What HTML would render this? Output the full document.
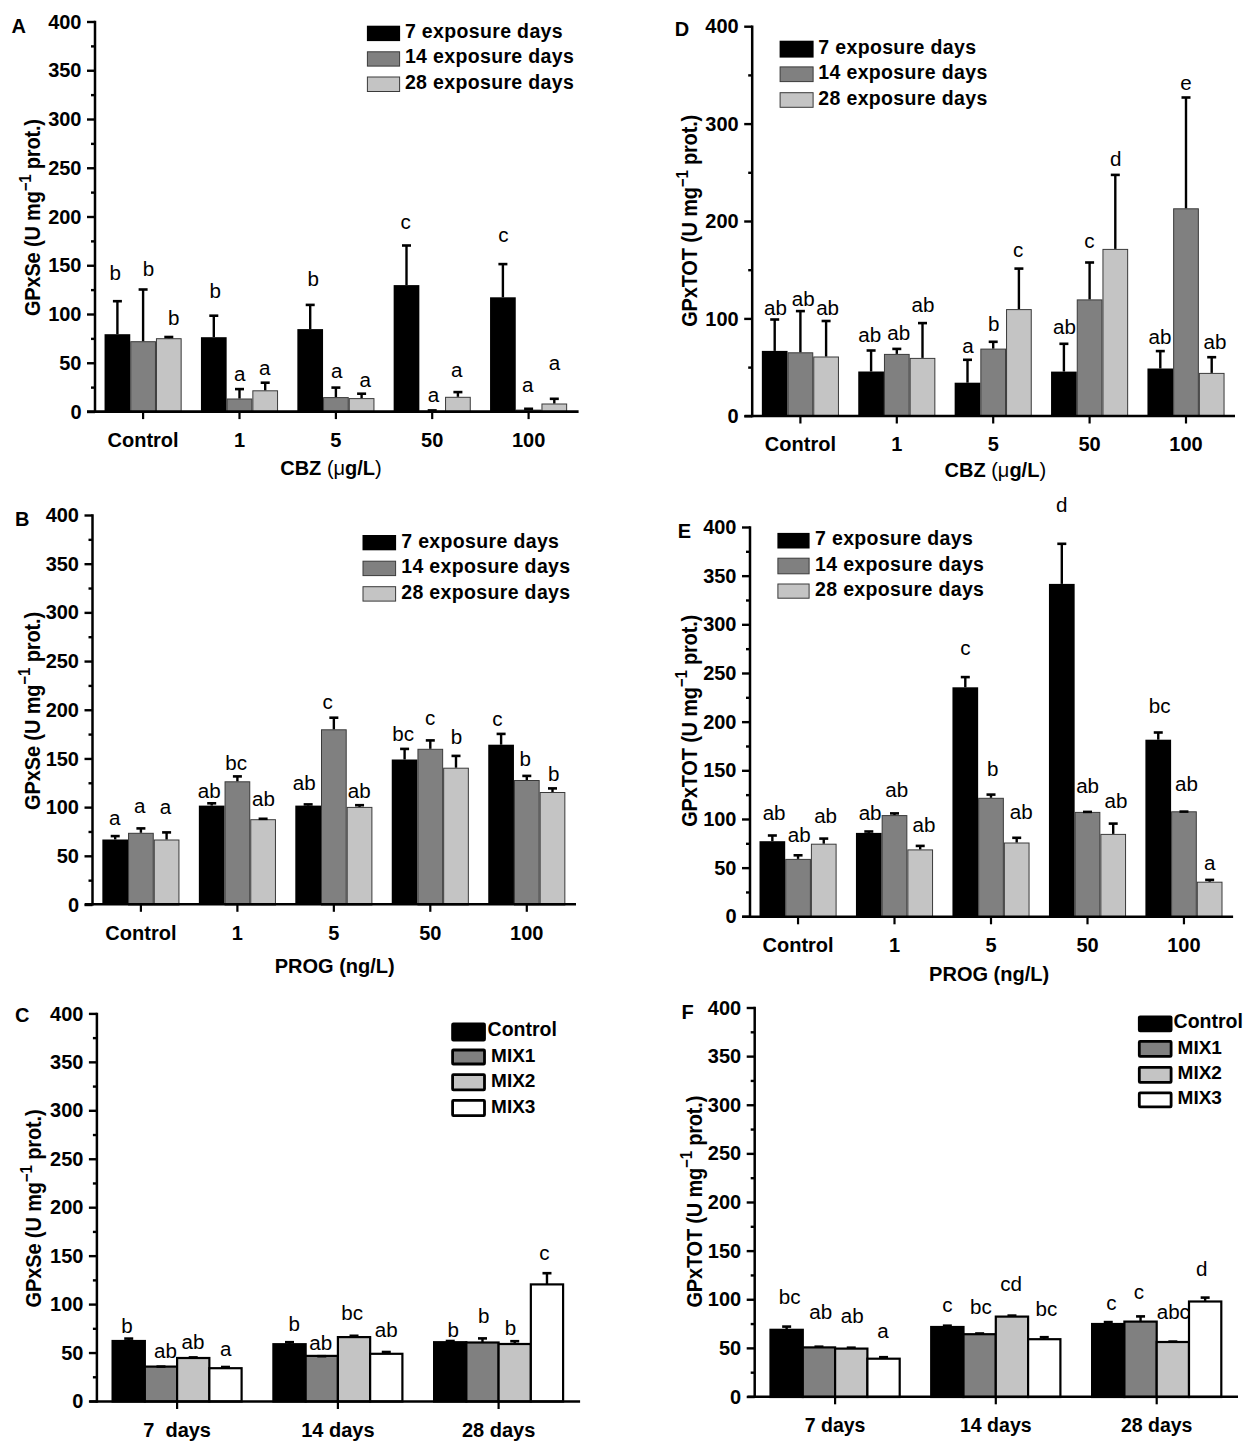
<!DOCTYPE html>
<html><head><meta charset="utf-8"><title>GPx figure</title>
<style>
html,body{margin:0;padding:0;background:#fff;}
body{width:1250px;height:1446px;overflow:hidden;}
svg{display:block;}
text{font-family:"Liberation Sans", sans-serif;fill:#000;}
</style></head>
<body>
<svg width="1250" height="1446" viewBox="0 0 1250 1446">
<rect x="0" y="0" width="1250" height="1446" fill="#fff"/>
<line x1="87.00" y1="412.00" x2="95.00" y2="412.00" stroke="#000" stroke-width="2.4"/>
<text x="81.50" y="418.60" font-size="20" font-weight="bold" text-anchor="end" >0</text>
<line x1="91.00" y1="387.62" x2="95.00" y2="387.62" stroke="#000" stroke-width="2.4"/>
<line x1="87.00" y1="363.25" x2="95.00" y2="363.25" stroke="#000" stroke-width="2.4"/>
<text x="81.50" y="369.85" font-size="20" font-weight="bold" text-anchor="end" >50</text>
<line x1="91.00" y1="338.88" x2="95.00" y2="338.88" stroke="#000" stroke-width="2.4"/>
<line x1="87.00" y1="314.50" x2="95.00" y2="314.50" stroke="#000" stroke-width="2.4"/>
<text x="81.50" y="321.10" font-size="20" font-weight="bold" text-anchor="end" >100</text>
<line x1="91.00" y1="290.12" x2="95.00" y2="290.12" stroke="#000" stroke-width="2.4"/>
<line x1="87.00" y1="265.75" x2="95.00" y2="265.75" stroke="#000" stroke-width="2.4"/>
<text x="81.50" y="272.35" font-size="20" font-weight="bold" text-anchor="end" >150</text>
<line x1="91.00" y1="241.38" x2="95.00" y2="241.38" stroke="#000" stroke-width="2.4"/>
<line x1="87.00" y1="217.00" x2="95.00" y2="217.00" stroke="#000" stroke-width="2.4"/>
<text x="81.50" y="223.60" font-size="20" font-weight="bold" text-anchor="end" >200</text>
<line x1="91.00" y1="192.62" x2="95.00" y2="192.62" stroke="#000" stroke-width="2.4"/>
<line x1="87.00" y1="168.25" x2="95.00" y2="168.25" stroke="#000" stroke-width="2.4"/>
<text x="81.50" y="174.85" font-size="20" font-weight="bold" text-anchor="end" >250</text>
<line x1="91.00" y1="143.88" x2="95.00" y2="143.88" stroke="#000" stroke-width="2.4"/>
<line x1="87.00" y1="119.50" x2="95.00" y2="119.50" stroke="#000" stroke-width="2.4"/>
<text x="81.50" y="126.10" font-size="20" font-weight="bold" text-anchor="end" >300</text>
<line x1="91.00" y1="95.12" x2="95.00" y2="95.12" stroke="#000" stroke-width="2.4"/>
<line x1="87.00" y1="70.75" x2="95.00" y2="70.75" stroke="#000" stroke-width="2.4"/>
<text x="81.50" y="77.35" font-size="20" font-weight="bold" text-anchor="end" >350</text>
<line x1="91.00" y1="46.38" x2="95.00" y2="46.38" stroke="#000" stroke-width="2.4"/>
<line x1="87.00" y1="22.00" x2="95.00" y2="22.00" stroke="#000" stroke-width="2.4"/>
<text x="81.50" y="28.60" font-size="20" font-weight="bold" text-anchor="end" >400</text>
<rect x="104.55" y="334.20" width="25.70" height="77.80" fill="#000"/>
<rect x="130.75" y="341.70" width="24.70" height="70.30" fill="#808080" stroke="#3a3a3a" stroke-width="1"/>
<rect x="156.45" y="338.70" width="24.70" height="73.30" fill="#c4c4c4" stroke="#3a3a3a" stroke-width="1"/>
<line x1="117.40" y1="334.20" x2="117.40" y2="301.20" stroke="#000" stroke-width="2.4"/>
<line x1="112.90" y1="301.20" x2="121.90" y2="301.20" stroke="#000" stroke-width="2.6"/>
<line x1="143.10" y1="341.20" x2="143.10" y2="289.50" stroke="#000" stroke-width="2.4"/>
<line x1="138.60" y1="289.50" x2="147.60" y2="289.50" stroke="#000" stroke-width="2.6"/>
<line x1="168.80" y1="338.20" x2="168.80" y2="337.00" stroke="#000" stroke-width="2.4"/>
<line x1="164.30" y1="337.00" x2="173.30" y2="337.00" stroke="#000" stroke-width="2.6"/>
<rect x="200.95" y="337.20" width="25.70" height="74.80" fill="#000"/>
<rect x="227.15" y="399.00" width="24.70" height="13.00" fill="#808080" stroke="#3a3a3a" stroke-width="1"/>
<rect x="252.85" y="390.80" width="24.70" height="21.20" fill="#c4c4c4" stroke="#3a3a3a" stroke-width="1"/>
<line x1="213.80" y1="337.20" x2="213.80" y2="315.70" stroke="#000" stroke-width="2.4"/>
<line x1="209.30" y1="315.70" x2="218.30" y2="315.70" stroke="#000" stroke-width="2.6"/>
<line x1="239.50" y1="398.50" x2="239.50" y2="389.10" stroke="#000" stroke-width="2.4"/>
<line x1="235.00" y1="389.10" x2="244.00" y2="389.10" stroke="#000" stroke-width="2.6"/>
<line x1="265.20" y1="390.30" x2="265.20" y2="382.70" stroke="#000" stroke-width="2.4"/>
<line x1="260.70" y1="382.70" x2="269.70" y2="382.70" stroke="#000" stroke-width="2.6"/>
<rect x="297.35" y="329.10" width="25.70" height="82.90" fill="#000"/>
<rect x="323.55" y="397.60" width="24.70" height="14.40" fill="#808080" stroke="#3a3a3a" stroke-width="1"/>
<rect x="349.25" y="398.60" width="24.70" height="13.40" fill="#c4c4c4" stroke="#3a3a3a" stroke-width="1"/>
<line x1="310.20" y1="329.10" x2="310.20" y2="304.90" stroke="#000" stroke-width="2.4"/>
<line x1="305.70" y1="304.90" x2="314.70" y2="304.90" stroke="#000" stroke-width="2.6"/>
<line x1="335.90" y1="397.10" x2="335.90" y2="387.60" stroke="#000" stroke-width="2.4"/>
<line x1="331.40" y1="387.60" x2="340.40" y2="387.60" stroke="#000" stroke-width="2.6"/>
<line x1="361.60" y1="398.10" x2="361.60" y2="393.70" stroke="#000" stroke-width="2.4"/>
<line x1="357.10" y1="393.70" x2="366.10" y2="393.70" stroke="#000" stroke-width="2.6"/>
<rect x="393.65" y="285.10" width="25.70" height="126.90" fill="#000"/>
<rect x="419.85" y="411.30" width="24.70" height="0.70" fill="#808080" stroke="#3a3a3a" stroke-width="1"/>
<rect x="445.55" y="397.30" width="24.70" height="14.70" fill="#c4c4c4" stroke="#3a3a3a" stroke-width="1"/>
<line x1="406.50" y1="285.10" x2="406.50" y2="245.50" stroke="#000" stroke-width="2.4"/>
<line x1="402.00" y1="245.50" x2="411.00" y2="245.50" stroke="#000" stroke-width="2.6"/>
<line x1="432.20" y1="410.80" x2="432.20" y2="410.40" stroke="#000" stroke-width="2.4"/>
<line x1="427.70" y1="410.40" x2="436.70" y2="410.40" stroke="#000" stroke-width="2.6"/>
<line x1="457.90" y1="396.80" x2="457.90" y2="392.10" stroke="#000" stroke-width="2.4"/>
<line x1="453.40" y1="392.10" x2="462.40" y2="392.10" stroke="#000" stroke-width="2.6"/>
<rect x="490.05" y="297.30" width="25.70" height="114.70" fill="#000"/>
<rect x="516.25" y="410.10" width="24.70" height="1.90" fill="#808080" stroke="#3a3a3a" stroke-width="1"/>
<rect x="541.95" y="404.00" width="24.70" height="8.00" fill="#c4c4c4" stroke="#3a3a3a" stroke-width="1"/>
<line x1="502.90" y1="297.30" x2="502.90" y2="264.10" stroke="#000" stroke-width="2.4"/>
<line x1="498.40" y1="264.10" x2="507.40" y2="264.10" stroke="#000" stroke-width="2.6"/>
<line x1="528.60" y1="409.60" x2="528.60" y2="408.80" stroke="#000" stroke-width="2.4"/>
<line x1="524.10" y1="408.80" x2="533.10" y2="408.80" stroke="#000" stroke-width="2.6"/>
<line x1="554.30" y1="403.50" x2="554.30" y2="398.80" stroke="#000" stroke-width="2.4"/>
<line x1="549.80" y1="398.80" x2="558.80" y2="398.80" stroke="#000" stroke-width="2.6"/>
<line x1="95.00" y1="20.80" x2="95.00" y2="412.80" stroke="#000" stroke-width="2.5"/>
<line x1="87.00" y1="411.60" x2="578.60" y2="411.60" stroke="#000" stroke-width="2.6"/>
<line x1="143.10" y1="411.60" x2="143.10" y2="419.10" stroke="#000" stroke-width="2.2"/>
<line x1="239.50" y1="411.60" x2="239.50" y2="419.10" stroke="#000" stroke-width="2.2"/>
<line x1="335.90" y1="411.60" x2="335.90" y2="419.10" stroke="#000" stroke-width="2.2"/>
<line x1="432.20" y1="411.60" x2="432.20" y2="419.10" stroke="#000" stroke-width="2.2"/>
<line x1="528.60" y1="411.60" x2="528.60" y2="419.10" stroke="#000" stroke-width="2.2"/>
<text transform="translate(115.10,279.50) scale(1.03,1)" x="0" y="0" font-size="20" font-weight="normal" text-anchor="middle" >b</text>
<text transform="translate(148.50,275.50) scale(1.03,1)" x="0" y="0" font-size="20" font-weight="normal" text-anchor="middle" >b</text>
<text transform="translate(173.80,324.50) scale(1.03,1)" x="0" y="0" font-size="20" font-weight="normal" text-anchor="middle" >b</text>
<text transform="translate(215.20,298.00) scale(1.03,1)" x="0" y="0" font-size="20" font-weight="normal" text-anchor="middle" >b</text>
<text transform="translate(239.80,381.20) scale(1.03,1)" x="0" y="0" font-size="20" font-weight="normal" text-anchor="middle" >a</text>
<text transform="translate(264.60,374.50) scale(1.03,1)" x="0" y="0" font-size="20" font-weight="normal" text-anchor="middle" >a</text>
<text transform="translate(313.20,285.60) scale(1.03,1)" x="0" y="0" font-size="20" font-weight="normal" text-anchor="middle" >b</text>
<text transform="translate(336.70,378.40) scale(1.03,1)" x="0" y="0" font-size="20" font-weight="normal" text-anchor="middle" >a</text>
<text transform="translate(365.20,387.20) scale(1.03,1)" x="0" y="0" font-size="20" font-weight="normal" text-anchor="middle" >a</text>
<text transform="translate(405.60,228.80) scale(1.03,1)" x="0" y="0" font-size="20" font-weight="normal" text-anchor="middle" >c</text>
<text transform="translate(433.40,402.40) scale(1.03,1)" x="0" y="0" font-size="20" font-weight="normal" text-anchor="middle" >a</text>
<text transform="translate(456.60,376.80) scale(1.03,1)" x="0" y="0" font-size="20" font-weight="normal" text-anchor="middle" >a</text>
<text transform="translate(503.40,242.40) scale(1.03,1)" x="0" y="0" font-size="20" font-weight="normal" text-anchor="middle" >c</text>
<text transform="translate(527.60,392.00) scale(1.03,1)" x="0" y="0" font-size="20" font-weight="normal" text-anchor="middle" >a</text>
<text transform="translate(554.40,370.40) scale(1.03,1)" x="0" y="0" font-size="20" font-weight="normal" text-anchor="middle" >a</text>
<text x="143.10" y="446.80" font-size="20" font-weight="bold" text-anchor="middle" xml:space="preserve">Control</text>
<text x="239.50" y="446.80" font-size="20" font-weight="bold" text-anchor="middle" xml:space="preserve">1</text>
<text x="335.90" y="446.80" font-size="20" font-weight="bold" text-anchor="middle" xml:space="preserve">5</text>
<text x="432.20" y="446.80" font-size="20" font-weight="bold" text-anchor="middle" xml:space="preserve">50</text>
<text x="528.60" y="446.80" font-size="20" font-weight="bold" text-anchor="middle" xml:space="preserve">100</text>
<text x="331.00" y="475.40" font-size="20" font-weight="bold" text-anchor="middle" >CBZ <tspan font-weight="normal">(&#956;</tspan>g/L<tspan font-weight="normal">)</tspan></text>
<text transform="translate(40.10,217.50) rotate(-90) scale(1,1.08)" x="0" y="0" font-size="20" font-weight="bold" text-anchor="middle" textLength="197" lengthAdjust="spacing">GPxSe (U mg<tspan dy="-8.7" font-size="15">&#8722;1</tspan><tspan dy="8.7"> prot.)</tspan></text>
<text x="11.40" y="33.00" font-size="20" font-weight="bold" text-anchor="start" >A</text>
<rect x="366.90" y="25.70" width="33.20" height="15.40" fill="#000"/>
<text x="404.90" y="38.00" font-size="19.5" font-weight="bold" text-anchor="start" letter-spacing="0.35">7 exposure days</text>
<rect x="367.40" y="51.80" width="32.20" height="14.30" fill="#808080" stroke="#3a3a3a" stroke-width="1"/>
<text x="404.90" y="63.00" font-size="19.5" font-weight="bold" text-anchor="start" letter-spacing="0.35">14 exposure days</text>
<rect x="367.40" y="77.00" width="32.20" height="14.50" fill="#c4c4c4" stroke="#3a3a3a" stroke-width="1"/>
<text x="404.90" y="88.50" font-size="19.5" font-weight="bold" text-anchor="start" letter-spacing="0.35">28 exposure days</text>
<line x1="84.50" y1="905.00" x2="92.50" y2="905.00" stroke="#000" stroke-width="2.4"/>
<text x="79.00" y="911.60" font-size="20" font-weight="bold" text-anchor="end" >0</text>
<line x1="88.50" y1="880.66" x2="92.50" y2="880.66" stroke="#000" stroke-width="2.4"/>
<line x1="84.50" y1="856.31" x2="92.50" y2="856.31" stroke="#000" stroke-width="2.4"/>
<text x="79.00" y="862.91" font-size="20" font-weight="bold" text-anchor="end" >50</text>
<line x1="88.50" y1="831.97" x2="92.50" y2="831.97" stroke="#000" stroke-width="2.4"/>
<line x1="84.50" y1="807.62" x2="92.50" y2="807.62" stroke="#000" stroke-width="2.4"/>
<text x="79.00" y="814.23" font-size="20" font-weight="bold" text-anchor="end" >100</text>
<line x1="88.50" y1="783.28" x2="92.50" y2="783.28" stroke="#000" stroke-width="2.4"/>
<line x1="84.50" y1="758.94" x2="92.50" y2="758.94" stroke="#000" stroke-width="2.4"/>
<text x="79.00" y="765.54" font-size="20" font-weight="bold" text-anchor="end" >150</text>
<line x1="88.50" y1="734.59" x2="92.50" y2="734.59" stroke="#000" stroke-width="2.4"/>
<line x1="84.50" y1="710.25" x2="92.50" y2="710.25" stroke="#000" stroke-width="2.4"/>
<text x="79.00" y="716.85" font-size="20" font-weight="bold" text-anchor="end" >200</text>
<line x1="88.50" y1="685.91" x2="92.50" y2="685.91" stroke="#000" stroke-width="2.4"/>
<line x1="84.50" y1="661.56" x2="92.50" y2="661.56" stroke="#000" stroke-width="2.4"/>
<text x="79.00" y="668.16" font-size="20" font-weight="bold" text-anchor="end" >250</text>
<line x1="88.50" y1="637.22" x2="92.50" y2="637.22" stroke="#000" stroke-width="2.4"/>
<line x1="84.50" y1="612.88" x2="92.50" y2="612.88" stroke="#000" stroke-width="2.4"/>
<text x="79.00" y="619.48" font-size="20" font-weight="bold" text-anchor="end" >300</text>
<line x1="88.50" y1="588.53" x2="92.50" y2="588.53" stroke="#000" stroke-width="2.4"/>
<line x1="84.50" y1="564.19" x2="92.50" y2="564.19" stroke="#000" stroke-width="2.4"/>
<text x="79.00" y="570.79" font-size="20" font-weight="bold" text-anchor="end" >350</text>
<line x1="88.50" y1="539.84" x2="92.50" y2="539.84" stroke="#000" stroke-width="2.4"/>
<line x1="84.50" y1="515.50" x2="92.50" y2="515.50" stroke="#000" stroke-width="2.4"/>
<text x="79.00" y="522.10" font-size="20" font-weight="bold" text-anchor="end" >400</text>
<rect x="102.35" y="839.50" width="25.70" height="65.50" fill="#000"/>
<rect x="128.55" y="833.30" width="24.70" height="71.70" fill="#808080" stroke="#3a3a3a" stroke-width="1"/>
<rect x="154.25" y="840.00" width="24.70" height="65.00" fill="#c4c4c4" stroke="#3a3a3a" stroke-width="1"/>
<line x1="115.20" y1="839.50" x2="115.20" y2="836.10" stroke="#000" stroke-width="2.4"/>
<line x1="110.70" y1="836.10" x2="119.70" y2="836.10" stroke="#000" stroke-width="2.6"/>
<line x1="140.90" y1="832.80" x2="140.90" y2="828.40" stroke="#000" stroke-width="2.4"/>
<line x1="136.40" y1="828.40" x2="145.40" y2="828.40" stroke="#000" stroke-width="2.6"/>
<line x1="166.60" y1="839.50" x2="166.60" y2="832.40" stroke="#000" stroke-width="2.4"/>
<line x1="162.10" y1="832.40" x2="171.10" y2="832.40" stroke="#000" stroke-width="2.6"/>
<rect x="198.85" y="805.60" width="25.70" height="99.40" fill="#000"/>
<rect x="225.05" y="781.80" width="24.70" height="123.20" fill="#808080" stroke="#3a3a3a" stroke-width="1"/>
<rect x="250.75" y="819.70" width="24.70" height="85.30" fill="#c4c4c4" stroke="#3a3a3a" stroke-width="1"/>
<line x1="211.70" y1="805.60" x2="211.70" y2="803.30" stroke="#000" stroke-width="2.4"/>
<line x1="207.20" y1="803.30" x2="216.20" y2="803.30" stroke="#000" stroke-width="2.6"/>
<line x1="237.40" y1="781.30" x2="237.40" y2="776.40" stroke="#000" stroke-width="2.4"/>
<line x1="232.90" y1="776.40" x2="241.90" y2="776.40" stroke="#000" stroke-width="2.6"/>
<line x1="263.10" y1="819.20" x2="263.10" y2="818.80" stroke="#000" stroke-width="2.4"/>
<line x1="258.60" y1="818.80" x2="267.60" y2="818.80" stroke="#000" stroke-width="2.6"/>
<rect x="295.30" y="805.60" width="25.70" height="99.40" fill="#000"/>
<rect x="321.50" y="729.80" width="24.70" height="175.20" fill="#808080" stroke="#3a3a3a" stroke-width="1"/>
<rect x="347.20" y="807.40" width="24.70" height="97.60" fill="#c4c4c4" stroke="#3a3a3a" stroke-width="1"/>
<line x1="308.15" y1="805.60" x2="308.15" y2="804.40" stroke="#000" stroke-width="2.4"/>
<line x1="303.65" y1="804.40" x2="312.65" y2="804.40" stroke="#000" stroke-width="2.6"/>
<line x1="333.85" y1="729.30" x2="333.85" y2="717.70" stroke="#000" stroke-width="2.4"/>
<line x1="329.35" y1="717.70" x2="338.35" y2="717.70" stroke="#000" stroke-width="2.6"/>
<line x1="359.55" y1="806.90" x2="359.55" y2="805.20" stroke="#000" stroke-width="2.4"/>
<line x1="355.05" y1="805.20" x2="364.05" y2="805.20" stroke="#000" stroke-width="2.6"/>
<rect x="391.75" y="759.50" width="25.70" height="145.50" fill="#000"/>
<rect x="417.95" y="749.30" width="24.70" height="155.70" fill="#808080" stroke="#3a3a3a" stroke-width="1"/>
<rect x="443.65" y="768.20" width="24.70" height="136.80" fill="#c4c4c4" stroke="#3a3a3a" stroke-width="1"/>
<line x1="404.60" y1="759.50" x2="404.60" y2="748.90" stroke="#000" stroke-width="2.4"/>
<line x1="400.10" y1="748.90" x2="409.10" y2="748.90" stroke="#000" stroke-width="2.6"/>
<line x1="430.30" y1="748.80" x2="430.30" y2="740.40" stroke="#000" stroke-width="2.4"/>
<line x1="425.80" y1="740.40" x2="434.80" y2="740.40" stroke="#000" stroke-width="2.6"/>
<line x1="456.00" y1="767.70" x2="456.00" y2="755.90" stroke="#000" stroke-width="2.4"/>
<line x1="451.50" y1="755.90" x2="460.50" y2="755.90" stroke="#000" stroke-width="2.6"/>
<rect x="488.25" y="744.70" width="25.70" height="160.30" fill="#000"/>
<rect x="514.45" y="780.50" width="24.70" height="124.50" fill="#808080" stroke="#3a3a3a" stroke-width="1"/>
<rect x="540.15" y="792.50" width="24.70" height="112.50" fill="#c4c4c4" stroke="#3a3a3a" stroke-width="1"/>
<line x1="501.10" y1="744.70" x2="501.10" y2="733.90" stroke="#000" stroke-width="2.4"/>
<line x1="496.60" y1="733.90" x2="505.60" y2="733.90" stroke="#000" stroke-width="2.6"/>
<line x1="526.80" y1="780.00" x2="526.80" y2="775.90" stroke="#000" stroke-width="2.4"/>
<line x1="522.30" y1="775.90" x2="531.30" y2="775.90" stroke="#000" stroke-width="2.6"/>
<line x1="552.50" y1="792.00" x2="552.50" y2="788.40" stroke="#000" stroke-width="2.4"/>
<line x1="548.00" y1="788.40" x2="557.00" y2="788.40" stroke="#000" stroke-width="2.6"/>
<line x1="92.50" y1="514.30" x2="92.50" y2="905.50" stroke="#000" stroke-width="2.5"/>
<line x1="84.70" y1="904.30" x2="576.00" y2="904.30" stroke="#000" stroke-width="2.6"/>
<line x1="140.90" y1="904.30" x2="140.90" y2="911.80" stroke="#000" stroke-width="2.2"/>
<line x1="237.40" y1="904.30" x2="237.40" y2="911.80" stroke="#000" stroke-width="2.2"/>
<line x1="333.85" y1="904.30" x2="333.85" y2="911.80" stroke="#000" stroke-width="2.2"/>
<line x1="430.30" y1="904.30" x2="430.30" y2="911.80" stroke="#000" stroke-width="2.2"/>
<line x1="526.80" y1="904.30" x2="526.80" y2="911.80" stroke="#000" stroke-width="2.2"/>
<text transform="translate(114.60,824.80) scale(1.03,1)" x="0" y="0" font-size="20" font-weight="normal" text-anchor="middle" >a</text>
<text transform="translate(139.80,812.80) scale(1.03,1)" x="0" y="0" font-size="20" font-weight="normal" text-anchor="middle" >a</text>
<text transform="translate(165.40,813.60) scale(1.03,1)" x="0" y="0" font-size="20" font-weight="normal" text-anchor="middle" >a</text>
<text transform="translate(209.20,797.60) scale(1.03,1)" x="0" y="0" font-size="20" font-weight="normal" text-anchor="middle" >ab</text>
<text transform="translate(236.10,769.60) scale(1.03,1)" x="0" y="0" font-size="20" font-weight="normal" text-anchor="middle" >bc</text>
<text transform="translate(263.40,805.90) scale(1.03,1)" x="0" y="0" font-size="20" font-weight="normal" text-anchor="middle" >ab</text>
<text transform="translate(304.20,789.60) scale(1.03,1)" x="0" y="0" font-size="20" font-weight="normal" text-anchor="middle" >ab</text>
<text transform="translate(327.60,708.70) scale(1.03,1)" x="0" y="0" font-size="20" font-weight="normal" text-anchor="middle" >c</text>
<text transform="translate(359.20,798.40) scale(1.03,1)" x="0" y="0" font-size="20" font-weight="normal" text-anchor="middle" >ab</text>
<text transform="translate(403.20,740.80) scale(1.03,1)" x="0" y="0" font-size="20" font-weight="normal" text-anchor="middle" >bc</text>
<text transform="translate(430.10,724.80) scale(1.03,1)" x="0" y="0" font-size="20" font-weight="normal" text-anchor="middle" >c</text>
<text transform="translate(456.40,743.50) scale(1.03,1)" x="0" y="0" font-size="20" font-weight="normal" text-anchor="middle" >b</text>
<text transform="translate(497.40,726.00) scale(1.03,1)" x="0" y="0" font-size="20" font-weight="normal" text-anchor="middle" >c</text>
<text transform="translate(525.10,766.30) scale(1.03,1)" x="0" y="0" font-size="20" font-weight="normal" text-anchor="middle" >b</text>
<text transform="translate(553.60,780.70) scale(1.03,1)" x="0" y="0" font-size="20" font-weight="normal" text-anchor="middle" >b</text>
<text x="140.90" y="939.50" font-size="20" font-weight="bold" text-anchor="middle" xml:space="preserve">Control</text>
<text x="237.40" y="939.50" font-size="20" font-weight="bold" text-anchor="middle" xml:space="preserve">1</text>
<text x="333.85" y="939.50" font-size="20" font-weight="bold" text-anchor="middle" xml:space="preserve">5</text>
<text x="430.30" y="939.50" font-size="20" font-weight="bold" text-anchor="middle" xml:space="preserve">50</text>
<text x="526.80" y="939.50" font-size="20" font-weight="bold" text-anchor="middle" xml:space="preserve">100</text>
<text x="334.70" y="972.60" font-size="20" font-weight="bold" text-anchor="middle" >PROG (ng/L)</text>
<text transform="translate(39.50,710.90) rotate(-90) scale(1,1.08)" x="0" y="0" font-size="20" font-weight="bold" text-anchor="middle" textLength="198" lengthAdjust="spacing">GPxSe (U mg<tspan dy="-8.7" font-size="15">&#8722;1</tspan><tspan dy="8.7"> prot.)</tspan></text>
<text x="15.10" y="525.50" font-size="20" font-weight="bold" text-anchor="start" >B</text>
<rect x="362.50" y="535.00" width="33.60" height="15.30" fill="#000"/>
<text x="401.20" y="547.80" font-size="19.5" font-weight="bold" text-anchor="start" letter-spacing="0.35">7 exposure days</text>
<rect x="363.00" y="561.20" width="32.60" height="14.40" fill="#808080" stroke="#3a3a3a" stroke-width="1"/>
<text x="401.20" y="572.80" font-size="19.5" font-weight="bold" text-anchor="start" letter-spacing="0.35">14 exposure days</text>
<rect x="363.00" y="586.70" width="32.60" height="14.40" fill="#c4c4c4" stroke="#3a3a3a" stroke-width="1"/>
<text x="401.20" y="598.70" font-size="19.5" font-weight="bold" text-anchor="start" letter-spacing="0.35">28 exposure days</text>
<line x1="88.90" y1="1401.50" x2="96.90" y2="1401.50" stroke="#000" stroke-width="2.4"/>
<text x="83.40" y="1408.10" font-size="20" font-weight="bold" text-anchor="end" >0</text>
<line x1="92.90" y1="1377.28" x2="96.90" y2="1377.28" stroke="#000" stroke-width="2.4"/>
<line x1="88.90" y1="1353.05" x2="96.90" y2="1353.05" stroke="#000" stroke-width="2.4"/>
<text x="83.40" y="1359.65" font-size="20" font-weight="bold" text-anchor="end" >50</text>
<line x1="92.90" y1="1328.83" x2="96.90" y2="1328.83" stroke="#000" stroke-width="2.4"/>
<line x1="88.90" y1="1304.60" x2="96.90" y2="1304.60" stroke="#000" stroke-width="2.4"/>
<text x="83.40" y="1311.20" font-size="20" font-weight="bold" text-anchor="end" >100</text>
<line x1="92.90" y1="1280.38" x2="96.90" y2="1280.38" stroke="#000" stroke-width="2.4"/>
<line x1="88.90" y1="1256.15" x2="96.90" y2="1256.15" stroke="#000" stroke-width="2.4"/>
<text x="83.40" y="1262.75" font-size="20" font-weight="bold" text-anchor="end" >150</text>
<line x1="92.90" y1="1231.92" x2="96.90" y2="1231.92" stroke="#000" stroke-width="2.4"/>
<line x1="88.90" y1="1207.70" x2="96.90" y2="1207.70" stroke="#000" stroke-width="2.4"/>
<text x="83.40" y="1214.30" font-size="20" font-weight="bold" text-anchor="end" >200</text>
<line x1="92.90" y1="1183.47" x2="96.90" y2="1183.47" stroke="#000" stroke-width="2.4"/>
<line x1="88.90" y1="1159.25" x2="96.90" y2="1159.25" stroke="#000" stroke-width="2.4"/>
<text x="83.40" y="1165.85" font-size="20" font-weight="bold" text-anchor="end" >250</text>
<line x1="92.90" y1="1135.03" x2="96.90" y2="1135.03" stroke="#000" stroke-width="2.4"/>
<line x1="88.90" y1="1110.80" x2="96.90" y2="1110.80" stroke="#000" stroke-width="2.4"/>
<text x="83.40" y="1117.40" font-size="20" font-weight="bold" text-anchor="end" >300</text>
<line x1="92.90" y1="1086.58" x2="96.90" y2="1086.58" stroke="#000" stroke-width="2.4"/>
<line x1="88.90" y1="1062.35" x2="96.90" y2="1062.35" stroke="#000" stroke-width="2.4"/>
<text x="83.40" y="1068.95" font-size="20" font-weight="bold" text-anchor="end" >350</text>
<line x1="92.90" y1="1038.12" x2="96.90" y2="1038.12" stroke="#000" stroke-width="2.4"/>
<line x1="88.90" y1="1013.90" x2="96.90" y2="1013.90" stroke="#000" stroke-width="2.4"/>
<text x="83.40" y="1020.50" font-size="20" font-weight="bold" text-anchor="end" >400</text>
<rect x="112.60" y="1341.00" width="32.25" height="60.50" fill="#000" stroke="#000" stroke-width="2.2"/>
<rect x="144.85" y="1366.60" width="32.25" height="34.90" fill="#808080" stroke="#000" stroke-width="2.2"/>
<rect x="177.10" y="1358.00" width="32.25" height="43.50" fill="#c4c4c4" stroke="#000" stroke-width="2.2"/>
<rect x="209.35" y="1368.20" width="32.25" height="33.30" fill="#fff" stroke="#000" stroke-width="2.2"/>
<line x1="128.72" y1="1341.00" x2="128.72" y2="1338.60" stroke="#000" stroke-width="2.4"/>
<line x1="124.22" y1="1338.60" x2="133.22" y2="1338.60" stroke="#000" stroke-width="2.6"/>
<line x1="156.47" y1="1366.60" x2="165.47" y2="1366.60" stroke="#000" stroke-width="2.6"/>
<line x1="193.22" y1="1358.00" x2="193.22" y2="1357.40" stroke="#000" stroke-width="2.4"/>
<line x1="188.72" y1="1357.40" x2="197.72" y2="1357.40" stroke="#000" stroke-width="2.6"/>
<line x1="225.47" y1="1368.20" x2="225.47" y2="1367.00" stroke="#000" stroke-width="2.4"/>
<line x1="220.97" y1="1367.00" x2="229.97" y2="1367.00" stroke="#000" stroke-width="2.6"/>
<rect x="273.40" y="1344.20" width="32.25" height="57.30" fill="#000" stroke="#000" stroke-width="2.2"/>
<rect x="305.65" y="1355.90" width="32.25" height="45.60" fill="#808080" stroke="#000" stroke-width="2.2"/>
<rect x="337.90" y="1337.10" width="32.25" height="64.40" fill="#c4c4c4" stroke="#000" stroke-width="2.2"/>
<rect x="370.15" y="1353.80" width="32.25" height="47.70" fill="#fff" stroke="#000" stroke-width="2.2"/>
<line x1="289.52" y1="1344.20" x2="289.52" y2="1342.20" stroke="#000" stroke-width="2.4"/>
<line x1="285.02" y1="1342.20" x2="294.02" y2="1342.20" stroke="#000" stroke-width="2.6"/>
<line x1="317.27" y1="1356.20" x2="326.27" y2="1356.20" stroke="#000" stroke-width="2.6"/>
<line x1="354.02" y1="1337.10" x2="354.02" y2="1335.80" stroke="#000" stroke-width="2.4"/>
<line x1="349.52" y1="1335.80" x2="358.52" y2="1335.80" stroke="#000" stroke-width="2.6"/>
<line x1="386.27" y1="1353.80" x2="386.27" y2="1352.00" stroke="#000" stroke-width="2.4"/>
<line x1="381.77" y1="1352.00" x2="390.77" y2="1352.00" stroke="#000" stroke-width="2.6"/>
<rect x="434.10" y="1342.20" width="32.25" height="59.30" fill="#000" stroke="#000" stroke-width="2.2"/>
<rect x="466.35" y="1342.50" width="32.25" height="59.00" fill="#808080" stroke="#000" stroke-width="2.2"/>
<rect x="498.60" y="1344.00" width="32.25" height="57.50" fill="#c4c4c4" stroke="#000" stroke-width="2.2"/>
<rect x="530.85" y="1284.40" width="32.25" height="117.10" fill="#fff" stroke="#000" stroke-width="2.2"/>
<line x1="450.23" y1="1342.20" x2="450.23" y2="1341.00" stroke="#000" stroke-width="2.4"/>
<line x1="445.73" y1="1341.00" x2="454.73" y2="1341.00" stroke="#000" stroke-width="2.6"/>
<line x1="482.48" y1="1342.50" x2="482.48" y2="1338.40" stroke="#000" stroke-width="2.4"/>
<line x1="477.98" y1="1338.40" x2="486.98" y2="1338.40" stroke="#000" stroke-width="2.6"/>
<line x1="514.73" y1="1344.00" x2="514.73" y2="1341.20" stroke="#000" stroke-width="2.4"/>
<line x1="510.23" y1="1341.20" x2="519.23" y2="1341.20" stroke="#000" stroke-width="2.6"/>
<line x1="546.98" y1="1284.40" x2="546.98" y2="1273.20" stroke="#000" stroke-width="2.4"/>
<line x1="542.48" y1="1273.20" x2="551.48" y2="1273.20" stroke="#000" stroke-width="2.6"/>
<line x1="96.90" y1="1012.70" x2="96.90" y2="1402.70" stroke="#000" stroke-width="2.5"/>
<line x1="89.50" y1="1401.50" x2="580.10" y2="1401.50" stroke="#000" stroke-width="2.6"/>
<line x1="177.10" y1="1401.50" x2="177.10" y2="1409.00" stroke="#000" stroke-width="2.2"/>
<line x1="337.90" y1="1401.50" x2="337.90" y2="1409.00" stroke="#000" stroke-width="2.2"/>
<line x1="498.60" y1="1401.50" x2="498.60" y2="1409.00" stroke="#000" stroke-width="2.2"/>
<text transform="translate(127.00,1333.40) scale(1.03,1)" x="0" y="0" font-size="20" font-weight="normal" text-anchor="middle" >b</text>
<text transform="translate(165.50,1358.00) scale(1.03,1)" x="0" y="0" font-size="20" font-weight="normal" text-anchor="middle" >ab</text>
<text transform="translate(192.90,1349.00) scale(1.03,1)" x="0" y="0" font-size="20" font-weight="normal" text-anchor="middle" >ab</text>
<text transform="translate(225.60,1355.60) scale(1.03,1)" x="0" y="0" font-size="20" font-weight="normal" text-anchor="middle" >a</text>
<text transform="translate(294.20,1330.70) scale(1.03,1)" x="0" y="0" font-size="20" font-weight="normal" text-anchor="middle" >b</text>
<text transform="translate(320.80,1349.90) scale(1.03,1)" x="0" y="0" font-size="20" font-weight="normal" text-anchor="middle" >ab</text>
<text transform="translate(352.10,1319.80) scale(1.03,1)" x="0" y="0" font-size="20" font-weight="normal" text-anchor="middle" >bc</text>
<text transform="translate(386.20,1336.50) scale(1.03,1)" x="0" y="0" font-size="20" font-weight="normal" text-anchor="middle" >ab</text>
<text transform="translate(453.20,1336.50) scale(1.03,1)" x="0" y="0" font-size="20" font-weight="normal" text-anchor="middle" >b</text>
<text transform="translate(483.60,1323.20) scale(1.03,1)" x="0" y="0" font-size="20" font-weight="normal" text-anchor="middle" >b</text>
<text transform="translate(510.40,1335.30) scale(1.03,1)" x="0" y="0" font-size="20" font-weight="normal" text-anchor="middle" >b</text>
<text transform="translate(544.40,1260.20) scale(1.03,1)" x="0" y="0" font-size="20" font-weight="normal" text-anchor="middle" >c</text>
<text x="177.10" y="1437.00" font-size="20" font-weight="bold" text-anchor="middle" xml:space="preserve">7  days</text>
<text x="337.90" y="1437.00" font-size="20" font-weight="bold" text-anchor="middle" xml:space="preserve">14 days</text>
<text x="498.60" y="1437.00" font-size="20" font-weight="bold" text-anchor="middle" xml:space="preserve">28 days</text>
<text transform="translate(41.30,1208.40) rotate(-90) scale(1,1.08)" x="0" y="0" font-size="20" font-weight="bold" text-anchor="middle" textLength="198" lengthAdjust="spacing">GPxSe (U mg<tspan dy="-8.7" font-size="15">&#8722;1</tspan><tspan dy="8.7"> prot.)</tspan></text>
<text x="15.10" y="1022.20" font-size="20" font-weight="bold" text-anchor="start" >C</text>
<rect x="452.60" y="1023.90" width="31.90" height="16.10" rx="0.8" fill="#000" stroke="#000" stroke-width="2.8"/>
<text x="487.60" y="1036.00" font-size="19.5" font-weight="bold" text-anchor="start" >Control</text>
<rect x="452.60" y="1050.00" width="31.90" height="14.00" rx="0.8" fill="#808080" stroke="#000" stroke-width="2.8"/>
<text x="491.10" y="1061.70" font-size="19" font-weight="bold" text-anchor="start" >MIX1</text>
<rect x="452.60" y="1074.70" width="31.90" height="15.10" rx="0.8" fill="#c4c4c4" stroke="#000" stroke-width="2.8"/>
<text x="491.10" y="1087.30" font-size="19" font-weight="bold" text-anchor="start" >MIX2</text>
<rect x="452.60" y="1100.40" width="31.90" height="15.20" rx="0.8" fill="#fff" stroke="#000" stroke-width="2.8"/>
<text x="491.10" y="1112.50" font-size="19" font-weight="bold" text-anchor="start" >MIX3</text>
<line x1="744.20" y1="416.30" x2="752.20" y2="416.30" stroke="#000" stroke-width="2.4"/>
<text x="738.70" y="422.90" font-size="20" font-weight="bold" text-anchor="end" >0</text>
<line x1="748.20" y1="367.60" x2="752.20" y2="367.60" stroke="#000" stroke-width="2.4"/>
<line x1="744.20" y1="318.90" x2="752.20" y2="318.90" stroke="#000" stroke-width="2.4"/>
<text x="738.70" y="325.50" font-size="20" font-weight="bold" text-anchor="end" >100</text>
<line x1="748.20" y1="270.20" x2="752.20" y2="270.20" stroke="#000" stroke-width="2.4"/>
<line x1="744.20" y1="221.50" x2="752.20" y2="221.50" stroke="#000" stroke-width="2.4"/>
<text x="738.70" y="228.10" font-size="20" font-weight="bold" text-anchor="end" >200</text>
<line x1="748.20" y1="172.80" x2="752.20" y2="172.80" stroke="#000" stroke-width="2.4"/>
<line x1="744.20" y1="124.10" x2="752.20" y2="124.10" stroke="#000" stroke-width="2.4"/>
<text x="738.70" y="130.70" font-size="20" font-weight="bold" text-anchor="end" >300</text>
<line x1="748.20" y1="75.40" x2="752.20" y2="75.40" stroke="#000" stroke-width="2.4"/>
<line x1="744.20" y1="26.70" x2="752.20" y2="26.70" stroke="#000" stroke-width="2.4"/>
<text x="738.70" y="33.30" font-size="20" font-weight="bold" text-anchor="end" >400</text>
<rect x="761.85" y="350.90" width="25.70" height="65.40" fill="#000"/>
<rect x="788.05" y="352.80" width="24.70" height="63.50" fill="#808080" stroke="#3a3a3a" stroke-width="1"/>
<rect x="813.75" y="357.00" width="24.70" height="59.30" fill="#c4c4c4" stroke="#3a3a3a" stroke-width="1"/>
<line x1="774.70" y1="350.90" x2="774.70" y2="319.50" stroke="#000" stroke-width="2.4"/>
<line x1="770.20" y1="319.50" x2="779.20" y2="319.50" stroke="#000" stroke-width="2.6"/>
<line x1="800.40" y1="352.30" x2="800.40" y2="311.10" stroke="#000" stroke-width="2.4"/>
<line x1="795.90" y1="311.10" x2="804.90" y2="311.10" stroke="#000" stroke-width="2.6"/>
<line x1="826.10" y1="356.50" x2="826.10" y2="321.00" stroke="#000" stroke-width="2.4"/>
<line x1="821.60" y1="321.00" x2="830.60" y2="321.00" stroke="#000" stroke-width="2.6"/>
<rect x="858.25" y="371.50" width="25.70" height="44.80" fill="#000"/>
<rect x="884.45" y="354.40" width="24.70" height="61.90" fill="#808080" stroke="#3a3a3a" stroke-width="1"/>
<rect x="910.15" y="358.40" width="24.70" height="57.90" fill="#c4c4c4" stroke="#3a3a3a" stroke-width="1"/>
<line x1="871.10" y1="371.50" x2="871.10" y2="350.50" stroke="#000" stroke-width="2.4"/>
<line x1="866.60" y1="350.50" x2="875.60" y2="350.50" stroke="#000" stroke-width="2.6"/>
<line x1="896.80" y1="353.90" x2="896.80" y2="348.90" stroke="#000" stroke-width="2.4"/>
<line x1="892.30" y1="348.90" x2="901.30" y2="348.90" stroke="#000" stroke-width="2.6"/>
<line x1="922.50" y1="357.90" x2="922.50" y2="323.10" stroke="#000" stroke-width="2.4"/>
<line x1="918.00" y1="323.10" x2="927.00" y2="323.10" stroke="#000" stroke-width="2.6"/>
<rect x="954.65" y="382.70" width="25.70" height="33.60" fill="#000"/>
<rect x="980.85" y="349.10" width="24.70" height="67.20" fill="#808080" stroke="#3a3a3a" stroke-width="1"/>
<rect x="1006.55" y="309.60" width="24.70" height="106.70" fill="#c4c4c4" stroke="#3a3a3a" stroke-width="1"/>
<line x1="967.50" y1="382.70" x2="967.50" y2="359.80" stroke="#000" stroke-width="2.4"/>
<line x1="963.00" y1="359.80" x2="972.00" y2="359.80" stroke="#000" stroke-width="2.6"/>
<line x1="993.20" y1="348.60" x2="993.20" y2="341.80" stroke="#000" stroke-width="2.4"/>
<line x1="988.70" y1="341.80" x2="997.70" y2="341.80" stroke="#000" stroke-width="2.6"/>
<line x1="1018.90" y1="309.10" x2="1018.90" y2="268.60" stroke="#000" stroke-width="2.4"/>
<line x1="1014.40" y1="268.60" x2="1023.40" y2="268.60" stroke="#000" stroke-width="2.6"/>
<rect x="1051.05" y="371.60" width="25.70" height="44.70" fill="#000"/>
<rect x="1077.25" y="299.90" width="24.70" height="116.40" fill="#808080" stroke="#3a3a3a" stroke-width="1"/>
<rect x="1102.95" y="249.40" width="24.70" height="166.90" fill="#c4c4c4" stroke="#3a3a3a" stroke-width="1"/>
<line x1="1063.90" y1="371.60" x2="1063.90" y2="343.80" stroke="#000" stroke-width="2.4"/>
<line x1="1059.40" y1="343.80" x2="1068.40" y2="343.80" stroke="#000" stroke-width="2.6"/>
<line x1="1089.60" y1="299.40" x2="1089.60" y2="262.50" stroke="#000" stroke-width="2.4"/>
<line x1="1085.10" y1="262.50" x2="1094.10" y2="262.50" stroke="#000" stroke-width="2.6"/>
<line x1="1115.30" y1="248.90" x2="1115.30" y2="174.90" stroke="#000" stroke-width="2.4"/>
<line x1="1110.80" y1="174.90" x2="1119.80" y2="174.90" stroke="#000" stroke-width="2.6"/>
<rect x="1147.45" y="368.50" width="25.70" height="47.80" fill="#000"/>
<rect x="1173.65" y="208.80" width="24.70" height="207.50" fill="#808080" stroke="#3a3a3a" stroke-width="1"/>
<rect x="1199.35" y="373.40" width="24.70" height="42.90" fill="#c4c4c4" stroke="#3a3a3a" stroke-width="1"/>
<line x1="1160.30" y1="368.50" x2="1160.30" y2="351.10" stroke="#000" stroke-width="2.4"/>
<line x1="1155.80" y1="351.10" x2="1164.80" y2="351.10" stroke="#000" stroke-width="2.6"/>
<line x1="1186.00" y1="208.30" x2="1186.00" y2="97.50" stroke="#000" stroke-width="2.4"/>
<line x1="1181.50" y1="97.50" x2="1190.50" y2="97.50" stroke="#000" stroke-width="2.6"/>
<line x1="1211.70" y1="372.90" x2="1211.70" y2="357.20" stroke="#000" stroke-width="2.4"/>
<line x1="1207.20" y1="357.20" x2="1216.20" y2="357.20" stroke="#000" stroke-width="2.6"/>
<line x1="752.20" y1="25.50" x2="752.20" y2="417.20" stroke="#000" stroke-width="2.5"/>
<line x1="744.60" y1="416.00" x2="1235.00" y2="416.00" stroke="#000" stroke-width="2.6"/>
<line x1="800.40" y1="416.00" x2="800.40" y2="423.50" stroke="#000" stroke-width="2.2"/>
<line x1="896.80" y1="416.00" x2="896.80" y2="423.50" stroke="#000" stroke-width="2.2"/>
<line x1="993.20" y1="416.00" x2="993.20" y2="423.50" stroke="#000" stroke-width="2.2"/>
<line x1="1089.60" y1="416.00" x2="1089.60" y2="423.50" stroke="#000" stroke-width="2.2"/>
<line x1="1186.00" y1="416.00" x2="1186.00" y2="423.50" stroke="#000" stroke-width="2.2"/>
<text transform="translate(775.50,314.90) scale(1.03,1)" x="0" y="0" font-size="20" font-weight="normal" text-anchor="middle" >ab</text>
<text transform="translate(803.20,305.90) scale(1.03,1)" x="0" y="0" font-size="20" font-weight="normal" text-anchor="middle" >ab</text>
<text transform="translate(827.60,314.90) scale(1.03,1)" x="0" y="0" font-size="20" font-weight="normal" text-anchor="middle" >ab</text>
<text transform="translate(869.80,341.60) scale(1.03,1)" x="0" y="0" font-size="20" font-weight="normal" text-anchor="middle" >ab</text>
<text transform="translate(898.80,340.00) scale(1.03,1)" x="0" y="0" font-size="20" font-weight="normal" text-anchor="middle" >ab</text>
<text transform="translate(923.00,311.70) scale(1.03,1)" x="0" y="0" font-size="20" font-weight="normal" text-anchor="middle" >ab</text>
<text transform="translate(968.00,353.00) scale(1.03,1)" x="0" y="0" font-size="20" font-weight="normal" text-anchor="middle" >a</text>
<text transform="translate(993.60,331.10) scale(1.03,1)" x="0" y="0" font-size="20" font-weight="normal" text-anchor="middle" >b</text>
<text transform="translate(1018.20,257.30) scale(1.03,1)" x="0" y="0" font-size="20" font-weight="normal" text-anchor="middle" >c</text>
<text transform="translate(1064.40,334.10) scale(1.03,1)" x="0" y="0" font-size="20" font-weight="normal" text-anchor="middle" >ab</text>
<text transform="translate(1089.50,248.30) scale(1.03,1)" x="0" y="0" font-size="20" font-weight="normal" text-anchor="middle" >c</text>
<text transform="translate(1115.70,166.00) scale(1.03,1)" x="0" y="0" font-size="20" font-weight="normal" text-anchor="middle" >d</text>
<text transform="translate(1160.00,343.90) scale(1.03,1)" x="0" y="0" font-size="20" font-weight="normal" text-anchor="middle" >ab</text>
<text transform="translate(1186.00,90.00) scale(1.03,1)" x="0" y="0" font-size="20" font-weight="normal" text-anchor="middle" >e</text>
<text transform="translate(1215.00,349.20) scale(1.03,1)" x="0" y="0" font-size="20" font-weight="normal" text-anchor="middle" >ab</text>
<text x="800.40" y="451.20" font-size="20" font-weight="bold" text-anchor="middle" xml:space="preserve">Control</text>
<text x="896.80" y="451.20" font-size="20" font-weight="bold" text-anchor="middle" xml:space="preserve">1</text>
<text x="993.20" y="451.20" font-size="20" font-weight="bold" text-anchor="middle" xml:space="preserve">5</text>
<text x="1089.60" y="451.20" font-size="20" font-weight="bold" text-anchor="middle" xml:space="preserve">50</text>
<text x="1186.00" y="451.20" font-size="20" font-weight="bold" text-anchor="middle" xml:space="preserve">100</text>
<text x="995.30" y="477.00" font-size="20" font-weight="bold" text-anchor="middle" >CBZ <tspan font-weight="normal">(&#956;</tspan>g/L<tspan font-weight="normal">)</tspan></text>
<text transform="translate(697.40,220.80) rotate(-90) scale(1,1.08)" x="0" y="0" font-size="20" font-weight="bold" text-anchor="middle" textLength="212" lengthAdjust="spacing">GPxTOT (U mg<tspan dy="-8.7" font-size="15">&#8722;1</tspan><tspan dy="8.7"> prot.)</tspan></text>
<text x="674.70" y="35.80" font-size="20" font-weight="bold" text-anchor="start" >D</text>
<rect x="779.60" y="40.70" width="34.00" height="16.90" fill="#000"/>
<text x="818.30" y="53.60" font-size="19.5" font-weight="bold" text-anchor="start" letter-spacing="0.35">7 exposure days</text>
<rect x="780.10" y="66.90" width="33.00" height="14.70" fill="#808080" stroke="#3a3a3a" stroke-width="1"/>
<text x="818.30" y="79.00" font-size="19.5" font-weight="bold" text-anchor="start" letter-spacing="0.35">14 exposure days</text>
<rect x="780.10" y="92.70" width="33.00" height="14.60" fill="#c4c4c4" stroke="#3a3a3a" stroke-width="1"/>
<text x="818.30" y="104.60" font-size="19.5" font-weight="bold" text-anchor="start" letter-spacing="0.35">28 exposure days</text>
<line x1="742.00" y1="916.80" x2="750.00" y2="916.80" stroke="#000" stroke-width="2.4"/>
<text x="736.50" y="923.40" font-size="20" font-weight="bold" text-anchor="end" >0</text>
<line x1="746.00" y1="892.47" x2="750.00" y2="892.47" stroke="#000" stroke-width="2.4"/>
<line x1="742.00" y1="868.14" x2="750.00" y2="868.14" stroke="#000" stroke-width="2.4"/>
<text x="736.50" y="874.74" font-size="20" font-weight="bold" text-anchor="end" >50</text>
<line x1="746.00" y1="843.81" x2="750.00" y2="843.81" stroke="#000" stroke-width="2.4"/>
<line x1="742.00" y1="819.47" x2="750.00" y2="819.47" stroke="#000" stroke-width="2.4"/>
<text x="736.50" y="826.07" font-size="20" font-weight="bold" text-anchor="end" >100</text>
<line x1="746.00" y1="795.14" x2="750.00" y2="795.14" stroke="#000" stroke-width="2.4"/>
<line x1="742.00" y1="770.81" x2="750.00" y2="770.81" stroke="#000" stroke-width="2.4"/>
<text x="736.50" y="777.41" font-size="20" font-weight="bold" text-anchor="end" >150</text>
<line x1="746.00" y1="746.48" x2="750.00" y2="746.48" stroke="#000" stroke-width="2.4"/>
<line x1="742.00" y1="722.15" x2="750.00" y2="722.15" stroke="#000" stroke-width="2.4"/>
<text x="736.50" y="728.75" font-size="20" font-weight="bold" text-anchor="end" >200</text>
<line x1="746.00" y1="697.82" x2="750.00" y2="697.82" stroke="#000" stroke-width="2.4"/>
<line x1="742.00" y1="673.49" x2="750.00" y2="673.49" stroke="#000" stroke-width="2.4"/>
<text x="736.50" y="680.09" font-size="20" font-weight="bold" text-anchor="end" >250</text>
<line x1="746.00" y1="649.16" x2="750.00" y2="649.16" stroke="#000" stroke-width="2.4"/>
<line x1="742.00" y1="624.83" x2="750.00" y2="624.83" stroke="#000" stroke-width="2.4"/>
<text x="736.50" y="631.43" font-size="20" font-weight="bold" text-anchor="end" >300</text>
<line x1="746.00" y1="600.49" x2="750.00" y2="600.49" stroke="#000" stroke-width="2.4"/>
<line x1="742.00" y1="576.16" x2="750.00" y2="576.16" stroke="#000" stroke-width="2.4"/>
<text x="736.50" y="582.76" font-size="20" font-weight="bold" text-anchor="end" >350</text>
<line x1="746.00" y1="551.83" x2="750.00" y2="551.83" stroke="#000" stroke-width="2.4"/>
<line x1="742.00" y1="527.50" x2="750.00" y2="527.50" stroke="#000" stroke-width="2.4"/>
<text x="736.50" y="534.10" font-size="20" font-weight="bold" text-anchor="end" >400</text>
<rect x="759.50" y="841.20" width="25.70" height="75.60" fill="#000"/>
<rect x="785.70" y="859.40" width="24.70" height="57.40" fill="#808080" stroke="#3a3a3a" stroke-width="1"/>
<rect x="811.40" y="844.20" width="24.70" height="72.60" fill="#c4c4c4" stroke="#3a3a3a" stroke-width="1"/>
<line x1="772.35" y1="841.20" x2="772.35" y2="835.50" stroke="#000" stroke-width="2.4"/>
<line x1="767.85" y1="835.50" x2="776.85" y2="835.50" stroke="#000" stroke-width="2.6"/>
<line x1="798.05" y1="858.90" x2="798.05" y2="855.30" stroke="#000" stroke-width="2.4"/>
<line x1="793.55" y1="855.30" x2="802.55" y2="855.30" stroke="#000" stroke-width="2.6"/>
<line x1="823.75" y1="843.70" x2="823.75" y2="838.60" stroke="#000" stroke-width="2.4"/>
<line x1="819.25" y1="838.60" x2="828.25" y2="838.60" stroke="#000" stroke-width="2.6"/>
<rect x="855.95" y="832.90" width="25.70" height="83.90" fill="#000"/>
<rect x="882.15" y="815.60" width="24.70" height="101.20" fill="#808080" stroke="#3a3a3a" stroke-width="1"/>
<rect x="907.85" y="849.90" width="24.70" height="66.90" fill="#c4c4c4" stroke="#3a3a3a" stroke-width="1"/>
<line x1="868.80" y1="832.90" x2="868.80" y2="831.50" stroke="#000" stroke-width="2.4"/>
<line x1="864.30" y1="831.50" x2="873.30" y2="831.50" stroke="#000" stroke-width="2.6"/>
<line x1="894.50" y1="815.10" x2="894.50" y2="813.40" stroke="#000" stroke-width="2.4"/>
<line x1="890.00" y1="813.40" x2="899.00" y2="813.40" stroke="#000" stroke-width="2.6"/>
<line x1="920.20" y1="849.40" x2="920.20" y2="845.90" stroke="#000" stroke-width="2.4"/>
<line x1="915.70" y1="845.90" x2="924.70" y2="845.90" stroke="#000" stroke-width="2.6"/>
<rect x="952.45" y="687.30" width="25.70" height="229.50" fill="#000"/>
<rect x="978.65" y="798.30" width="24.70" height="118.50" fill="#808080" stroke="#3a3a3a" stroke-width="1"/>
<rect x="1004.35" y="843.00" width="24.70" height="73.80" fill="#c4c4c4" stroke="#3a3a3a" stroke-width="1"/>
<line x1="965.30" y1="687.30" x2="965.30" y2="677.10" stroke="#000" stroke-width="2.4"/>
<line x1="960.80" y1="677.10" x2="969.80" y2="677.10" stroke="#000" stroke-width="2.6"/>
<line x1="991.00" y1="797.80" x2="991.00" y2="794.60" stroke="#000" stroke-width="2.4"/>
<line x1="986.50" y1="794.60" x2="995.50" y2="794.60" stroke="#000" stroke-width="2.6"/>
<line x1="1016.70" y1="842.50" x2="1016.70" y2="837.80" stroke="#000" stroke-width="2.4"/>
<line x1="1012.20" y1="837.80" x2="1021.20" y2="837.80" stroke="#000" stroke-width="2.6"/>
<rect x="1048.95" y="583.90" width="25.70" height="332.90" fill="#000"/>
<rect x="1075.15" y="812.40" width="24.70" height="104.40" fill="#808080" stroke="#3a3a3a" stroke-width="1"/>
<rect x="1100.85" y="834.40" width="24.70" height="82.40" fill="#c4c4c4" stroke="#3a3a3a" stroke-width="1"/>
<line x1="1061.80" y1="583.90" x2="1061.80" y2="543.80" stroke="#000" stroke-width="2.4"/>
<line x1="1057.30" y1="543.80" x2="1066.30" y2="543.80" stroke="#000" stroke-width="2.6"/>
<line x1="1083.00" y1="811.90" x2="1092.00" y2="811.90" stroke="#000" stroke-width="2.6"/>
<line x1="1113.20" y1="833.90" x2="1113.20" y2="823.60" stroke="#000" stroke-width="2.4"/>
<line x1="1108.70" y1="823.60" x2="1117.70" y2="823.60" stroke="#000" stroke-width="2.6"/>
<rect x="1145.40" y="739.70" width="25.70" height="177.10" fill="#000"/>
<rect x="1171.60" y="811.80" width="24.70" height="105.00" fill="#808080" stroke="#3a3a3a" stroke-width="1"/>
<rect x="1197.30" y="882.20" width="24.70" height="34.60" fill="#c4c4c4" stroke="#3a3a3a" stroke-width="1"/>
<line x1="1158.25" y1="739.70" x2="1158.25" y2="732.50" stroke="#000" stroke-width="2.4"/>
<line x1="1153.75" y1="732.50" x2="1162.75" y2="732.50" stroke="#000" stroke-width="2.6"/>
<line x1="1179.45" y1="811.60" x2="1188.45" y2="811.60" stroke="#000" stroke-width="2.6"/>
<line x1="1209.65" y1="881.70" x2="1209.65" y2="879.90" stroke="#000" stroke-width="2.4"/>
<line x1="1205.15" y1="879.90" x2="1214.15" y2="879.90" stroke="#000" stroke-width="2.6"/>
<line x1="750.00" y1="526.30" x2="750.00" y2="918.00" stroke="#000" stroke-width="2.5"/>
<line x1="742.20" y1="916.80" x2="1233.10" y2="916.80" stroke="#000" stroke-width="2.6"/>
<line x1="798.05" y1="916.80" x2="798.05" y2="924.30" stroke="#000" stroke-width="2.2"/>
<line x1="894.50" y1="916.80" x2="894.50" y2="924.30" stroke="#000" stroke-width="2.2"/>
<line x1="991.00" y1="916.80" x2="991.00" y2="924.30" stroke="#000" stroke-width="2.2"/>
<line x1="1087.50" y1="916.80" x2="1087.50" y2="924.30" stroke="#000" stroke-width="2.2"/>
<line x1="1183.95" y1="916.80" x2="1183.95" y2="924.30" stroke="#000" stroke-width="2.2"/>
<text transform="translate(774.10,819.80) scale(1.03,1)" x="0" y="0" font-size="20" font-weight="normal" text-anchor="middle" >ab</text>
<text transform="translate(799.30,841.60) scale(1.03,1)" x="0" y="0" font-size="20" font-weight="normal" text-anchor="middle" >ab</text>
<text transform="translate(825.60,822.90) scale(1.03,1)" x="0" y="0" font-size="20" font-weight="normal" text-anchor="middle" >ab</text>
<text transform="translate(870.10,820.40) scale(1.03,1)" x="0" y="0" font-size="20" font-weight="normal" text-anchor="middle" >ab</text>
<text transform="translate(896.70,796.80) scale(1.03,1)" x="0" y="0" font-size="20" font-weight="normal" text-anchor="middle" >ab</text>
<text transform="translate(923.90,832.30) scale(1.03,1)" x="0" y="0" font-size="20" font-weight="normal" text-anchor="middle" >ab</text>
<text transform="translate(965.30,654.80) scale(1.03,1)" x="0" y="0" font-size="20" font-weight="normal" text-anchor="middle" >c</text>
<text transform="translate(992.80,775.70) scale(1.03,1)" x="0" y="0" font-size="20" font-weight="normal" text-anchor="middle" >b</text>
<text transform="translate(1021.20,819.00) scale(1.03,1)" x="0" y="0" font-size="20" font-weight="normal" text-anchor="middle" >ab</text>
<text transform="translate(1061.60,511.70) scale(1.03,1)" x="0" y="0" font-size="20" font-weight="normal" text-anchor="middle" >d</text>
<text transform="translate(1087.60,793.30) scale(1.03,1)" x="0" y="0" font-size="20" font-weight="normal" text-anchor="middle" >ab</text>
<text transform="translate(1116.00,808.30) scale(1.03,1)" x="0" y="0" font-size="20" font-weight="normal" text-anchor="middle" >ab</text>
<text transform="translate(1159.70,712.60) scale(1.03,1)" x="0" y="0" font-size="20" font-weight="normal" text-anchor="middle" >bc</text>
<text transform="translate(1186.50,791.40) scale(1.03,1)" x="0" y="0" font-size="20" font-weight="normal" text-anchor="middle" >ab</text>
<text transform="translate(1209.70,869.70) scale(1.03,1)" x="0" y="0" font-size="20" font-weight="normal" text-anchor="middle" >a</text>
<text x="798.05" y="952.20" font-size="20" font-weight="bold" text-anchor="middle" xml:space="preserve">Control</text>
<text x="894.50" y="952.20" font-size="20" font-weight="bold" text-anchor="middle" xml:space="preserve">1</text>
<text x="991.00" y="952.20" font-size="20" font-weight="bold" text-anchor="middle" xml:space="preserve">5</text>
<text x="1087.50" y="952.20" font-size="20" font-weight="bold" text-anchor="middle" xml:space="preserve">50</text>
<text x="1183.95" y="952.20" font-size="20" font-weight="bold" text-anchor="middle" xml:space="preserve">100</text>
<text x="989.10" y="980.90" font-size="20" font-weight="bold" text-anchor="middle" >PROG (ng/L)</text>
<text transform="translate(696.50,720.80) rotate(-90) scale(1,1.08)" x="0" y="0" font-size="20" font-weight="bold" text-anchor="middle" textLength="212" lengthAdjust="spacing">GPxTOT (U mg<tspan dy="-8.7" font-size="15">&#8722;1</tspan><tspan dy="8.7"> prot.)</tspan></text>
<text x="677.70" y="537.90" font-size="20" font-weight="bold" text-anchor="start" >E</text>
<rect x="777.40" y="532.90" width="32.20" height="15.60" fill="#000"/>
<text x="815.00" y="545.00" font-size="19.5" font-weight="bold" text-anchor="start" letter-spacing="0.35">7 exposure days</text>
<rect x="777.90" y="558.20" width="31.20" height="15.60" fill="#808080" stroke="#3a3a3a" stroke-width="1"/>
<text x="815.00" y="570.60" font-size="19.5" font-weight="bold" text-anchor="start" letter-spacing="0.35">14 exposure days</text>
<rect x="777.90" y="584.00" width="31.20" height="14.20" fill="#c4c4c4" stroke="#3a3a3a" stroke-width="1"/>
<text x="815.00" y="595.80" font-size="19.5" font-weight="bold" text-anchor="start" letter-spacing="0.35">28 exposure days</text>
<line x1="746.70" y1="1397.00" x2="754.70" y2="1397.00" stroke="#000" stroke-width="2.4"/>
<text x="741.20" y="1403.60" font-size="20" font-weight="bold" text-anchor="end" >0</text>
<line x1="750.70" y1="1372.69" x2="754.70" y2="1372.69" stroke="#000" stroke-width="2.4"/>
<line x1="746.70" y1="1348.38" x2="754.70" y2="1348.38" stroke="#000" stroke-width="2.4"/>
<text x="741.20" y="1354.97" font-size="20" font-weight="bold" text-anchor="end" >50</text>
<line x1="750.70" y1="1324.06" x2="754.70" y2="1324.06" stroke="#000" stroke-width="2.4"/>
<line x1="746.70" y1="1299.75" x2="754.70" y2="1299.75" stroke="#000" stroke-width="2.4"/>
<text x="741.20" y="1306.35" font-size="20" font-weight="bold" text-anchor="end" >100</text>
<line x1="750.70" y1="1275.44" x2="754.70" y2="1275.44" stroke="#000" stroke-width="2.4"/>
<line x1="746.70" y1="1251.12" x2="754.70" y2="1251.12" stroke="#000" stroke-width="2.4"/>
<text x="741.20" y="1257.72" font-size="20" font-weight="bold" text-anchor="end" >150</text>
<line x1="750.70" y1="1226.81" x2="754.70" y2="1226.81" stroke="#000" stroke-width="2.4"/>
<line x1="746.70" y1="1202.50" x2="754.70" y2="1202.50" stroke="#000" stroke-width="2.4"/>
<text x="741.20" y="1209.10" font-size="20" font-weight="bold" text-anchor="end" >200</text>
<line x1="750.70" y1="1178.19" x2="754.70" y2="1178.19" stroke="#000" stroke-width="2.4"/>
<line x1="746.70" y1="1153.88" x2="754.70" y2="1153.88" stroke="#000" stroke-width="2.4"/>
<text x="741.20" y="1160.47" font-size="20" font-weight="bold" text-anchor="end" >250</text>
<line x1="750.70" y1="1129.56" x2="754.70" y2="1129.56" stroke="#000" stroke-width="2.4"/>
<line x1="746.70" y1="1105.25" x2="754.70" y2="1105.25" stroke="#000" stroke-width="2.4"/>
<text x="741.20" y="1111.85" font-size="20" font-weight="bold" text-anchor="end" >300</text>
<line x1="750.70" y1="1080.94" x2="754.70" y2="1080.94" stroke="#000" stroke-width="2.4"/>
<line x1="746.70" y1="1056.62" x2="754.70" y2="1056.62" stroke="#000" stroke-width="2.4"/>
<text x="741.20" y="1063.22" font-size="20" font-weight="bold" text-anchor="end" >350</text>
<line x1="750.70" y1="1032.31" x2="754.70" y2="1032.31" stroke="#000" stroke-width="2.4"/>
<line x1="746.70" y1="1008.00" x2="754.70" y2="1008.00" stroke="#000" stroke-width="2.4"/>
<text x="741.20" y="1014.60" font-size="20" font-weight="bold" text-anchor="end" >400</text>
<text transform="translate(789.60,1303.80) scale(1.03,1)" x="0" y="0" font-size="20" font-weight="normal" text-anchor="middle" >bc</text>
<text transform="translate(820.80,1318.70) scale(1.03,1)" x="0" y="0" font-size="20" font-weight="normal" text-anchor="middle" >ab</text>
<text transform="translate(852.20,1323.10) scale(1.03,1)" x="0" y="0" font-size="20" font-weight="normal" text-anchor="middle" >ab</text>
<text transform="translate(883.00,1338.10) scale(1.03,1)" x="0" y="0" font-size="20" font-weight="normal" text-anchor="middle" >a</text>
<text transform="translate(947.50,1311.80) scale(1.03,1)" x="0" y="0" font-size="20" font-weight="normal" text-anchor="middle" >c</text>
<text transform="translate(981.00,1313.60) scale(1.03,1)" x="0" y="0" font-size="20" font-weight="normal" text-anchor="middle" >bc</text>
<text transform="translate(1011.10,1291.00) scale(1.03,1)" x="0" y="0" font-size="20" font-weight="normal" text-anchor="middle" >cd</text>
<text transform="translate(1046.30,1316.20) scale(1.03,1)" x="0" y="0" font-size="20" font-weight="normal" text-anchor="middle" >bc</text>
<text transform="translate(1111.30,1309.60) scale(1.03,1)" x="0" y="0" font-size="20" font-weight="normal" text-anchor="middle" >c</text>
<text transform="translate(1138.80,1298.80) scale(1.03,1)" x="0" y="0" font-size="20" font-weight="normal" text-anchor="middle" >c</text>
<text transform="translate(1173.30,1318.90) scale(1.03,1)" x="0" y="0" font-size="20" font-weight="normal" text-anchor="middle" >abc</text>
<text transform="translate(1201.60,1275.60) scale(1.03,1)" x="0" y="0" font-size="20" font-weight="normal" text-anchor="middle" >d</text>
<rect x="770.50" y="1329.80" width="32.30" height="67.20" fill="#000" stroke="#000" stroke-width="2.2"/>
<rect x="802.80" y="1347.40" width="32.30" height="49.60" fill="#808080" stroke="#000" stroke-width="2.2"/>
<rect x="835.10" y="1348.60" width="32.30" height="48.40" fill="#c4c4c4" stroke="#000" stroke-width="2.2"/>
<rect x="867.40" y="1358.70" width="32.30" height="38.30" fill="#fff" stroke="#000" stroke-width="2.2"/>
<line x1="786.65" y1="1329.80" x2="786.65" y2="1326.60" stroke="#000" stroke-width="2.4"/>
<line x1="782.15" y1="1326.60" x2="791.15" y2="1326.60" stroke="#000" stroke-width="2.6"/>
<line x1="818.95" y1="1347.40" x2="818.95" y2="1346.70" stroke="#000" stroke-width="2.4"/>
<line x1="814.45" y1="1346.70" x2="823.45" y2="1346.70" stroke="#000" stroke-width="2.6"/>
<line x1="851.25" y1="1348.60" x2="851.25" y2="1347.70" stroke="#000" stroke-width="2.4"/>
<line x1="846.75" y1="1347.70" x2="855.75" y2="1347.70" stroke="#000" stroke-width="2.6"/>
<line x1="883.55" y1="1358.70" x2="883.55" y2="1357.20" stroke="#000" stroke-width="2.4"/>
<line x1="879.05" y1="1357.20" x2="888.05" y2="1357.20" stroke="#000" stroke-width="2.6"/>
<rect x="931.20" y="1327.00" width="32.30" height="70.00" fill="#000" stroke="#000" stroke-width="2.2"/>
<rect x="963.50" y="1334.20" width="32.30" height="62.80" fill="#808080" stroke="#000" stroke-width="2.2"/>
<rect x="995.80" y="1316.60" width="32.30" height="80.40" fill="#c4c4c4" stroke="#000" stroke-width="2.2"/>
<rect x="1028.10" y="1339.20" width="32.30" height="57.80" fill="#fff" stroke="#000" stroke-width="2.2"/>
<line x1="947.35" y1="1327.00" x2="947.35" y2="1325.70" stroke="#000" stroke-width="2.4"/>
<line x1="942.85" y1="1325.70" x2="951.85" y2="1325.70" stroke="#000" stroke-width="2.6"/>
<line x1="979.65" y1="1334.20" x2="979.65" y2="1333.50" stroke="#000" stroke-width="2.4"/>
<line x1="975.15" y1="1333.50" x2="984.15" y2="1333.50" stroke="#000" stroke-width="2.6"/>
<line x1="1011.95" y1="1316.60" x2="1011.95" y2="1315.60" stroke="#000" stroke-width="2.4"/>
<line x1="1007.45" y1="1315.60" x2="1016.45" y2="1315.60" stroke="#000" stroke-width="2.6"/>
<line x1="1044.25" y1="1339.20" x2="1044.25" y2="1337.20" stroke="#000" stroke-width="2.4"/>
<line x1="1039.75" y1="1337.20" x2="1048.75" y2="1337.20" stroke="#000" stroke-width="2.6"/>
<rect x="1092.10" y="1324.00" width="32.30" height="73.00" fill="#000" stroke="#000" stroke-width="2.2"/>
<rect x="1124.40" y="1321.60" width="32.30" height="75.40" fill="#808080" stroke="#000" stroke-width="2.2"/>
<rect x="1156.70" y="1342.00" width="32.30" height="55.00" fill="#c4c4c4" stroke="#000" stroke-width="2.2"/>
<rect x="1189.00" y="1301.50" width="32.30" height="95.50" fill="#fff" stroke="#000" stroke-width="2.2"/>
<line x1="1108.25" y1="1324.00" x2="1108.25" y2="1322.10" stroke="#000" stroke-width="2.4"/>
<line x1="1103.75" y1="1322.10" x2="1112.75" y2="1322.10" stroke="#000" stroke-width="2.6"/>
<line x1="1140.55" y1="1321.60" x2="1140.55" y2="1316.40" stroke="#000" stroke-width="2.4"/>
<line x1="1136.05" y1="1316.40" x2="1145.05" y2="1316.40" stroke="#000" stroke-width="2.6"/>
<line x1="1172.85" y1="1342.00" x2="1172.85" y2="1341.60" stroke="#000" stroke-width="2.4"/>
<line x1="1168.35" y1="1341.60" x2="1177.35" y2="1341.60" stroke="#000" stroke-width="2.6"/>
<line x1="1205.15" y1="1301.50" x2="1205.15" y2="1297.60" stroke="#000" stroke-width="2.4"/>
<line x1="1200.65" y1="1297.60" x2="1209.65" y2="1297.60" stroke="#000" stroke-width="2.6"/>
<line x1="754.70" y1="1006.80" x2="754.70" y2="1398.00" stroke="#000" stroke-width="2.5"/>
<line x1="747.50" y1="1396.80" x2="1238.00" y2="1396.80" stroke="#000" stroke-width="2.6"/>
<line x1="835.10" y1="1396.80" x2="835.10" y2="1404.30" stroke="#000" stroke-width="2.2"/>
<line x1="995.80" y1="1396.80" x2="995.80" y2="1404.30" stroke="#000" stroke-width="2.2"/>
<line x1="1156.70" y1="1396.80" x2="1156.70" y2="1404.30" stroke="#000" stroke-width="2.2"/>
<text x="835.10" y="1432.20" font-size="19.5" font-weight="bold" text-anchor="middle" xml:space="preserve">7 days</text>
<text x="995.80" y="1432.20" font-size="19.5" font-weight="bold" text-anchor="middle" xml:space="preserve">14 days</text>
<text x="1156.70" y="1432.20" font-size="19.5" font-weight="bold" text-anchor="middle" xml:space="preserve">28 days</text>
<text transform="translate(701.50,1201.60) rotate(-90) scale(1,1.08)" x="0" y="0" font-size="20" font-weight="bold" text-anchor="middle" textLength="212" lengthAdjust="spacing">GPxTOT (U mg<tspan dy="-8.7" font-size="15">&#8722;1</tspan><tspan dy="8.7"> prot.)</tspan></text>
<text x="681.50" y="1018.90" font-size="20" font-weight="bold" text-anchor="start" >F</text>
<rect x="1139.30" y="1016.80" width="31.80" height="14.00" rx="0.8" fill="#000" stroke="#000" stroke-width="2.8"/>
<text x="1173.60" y="1028.30" font-size="19.5" font-weight="bold" text-anchor="start" >Control</text>
<rect x="1139.30" y="1041.40" width="31.80" height="14.90" rx="0.8" fill="#808080" stroke="#000" stroke-width="2.8"/>
<text x="1177.60" y="1054.10" font-size="19" font-weight="bold" text-anchor="start" >MIX1</text>
<rect x="1139.30" y="1067.40" width="31.80" height="14.90" rx="0.8" fill="#c4c4c4" stroke="#000" stroke-width="2.8"/>
<text x="1177.60" y="1079.20" font-size="19" font-weight="bold" text-anchor="start" >MIX2</text>
<rect x="1139.30" y="1092.90" width="31.80" height="13.90" rx="0.8" fill="#fff" stroke="#000" stroke-width="2.8"/>
<text x="1177.60" y="1104.20" font-size="19" font-weight="bold" text-anchor="start" >MIX3</text>
</svg>
</body></html>
